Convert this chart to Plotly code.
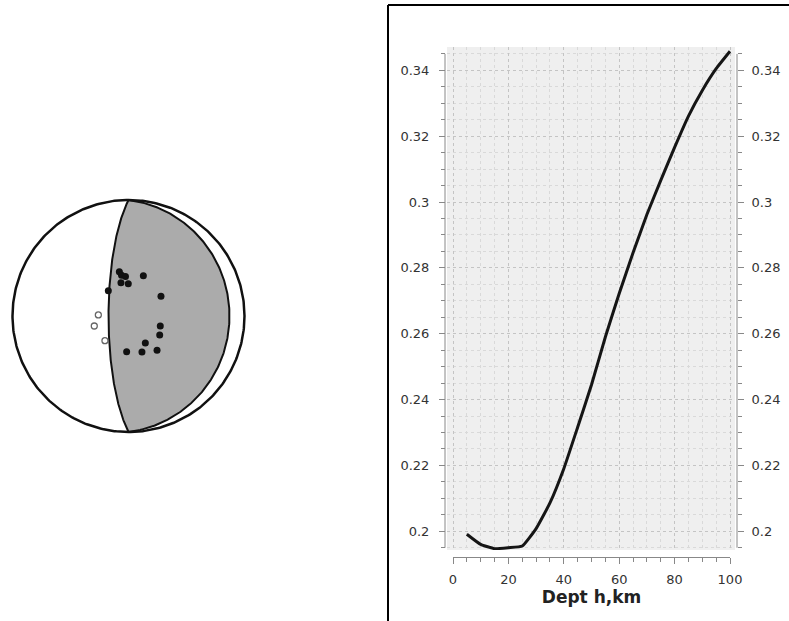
import numpy as np
import plotly.graph_objects as go

# ---------------- data ----------------
# Depth curve (right panel)
depth_km = [5, 10, 15, 20, 25, 30, 35, 40, 45, 50, 55, 60, 65, 70, 75, 80, 85, 90, 95, 100]
value = [0.1991, 0.1960, 0.1947, 0.1950, 0.1955, 0.2008, 0.2086, 0.2190, 0.2316, 0.2445,
         0.2590, 0.2722, 0.2846, 0.2962, 0.3066, 0.3166, 0.3261, 0.3339, 0.3405, 0.3458]
x_tick_vals = [0, 20, 40, 60, 80, 100]
y_tick_vals = [0.2, 0.22, 0.24, 0.26, 0.28, 0.3, 0.32, 0.34]
x_title = "Dept h,km"

# Focal mechanism (left panel): nodal planes (strike, dip) in degrees
plane1 = (180, 76)
plane2 = (0, 14)
# first-motion polarities, positions on unit (equal-area) net
comp_x = [-0.079, -0.060, -0.026, -0.065, -0.002, 0.128, -0.174, 0.280, 0.274, 0.269, 0.145, -0.016, 0.116, 0.246]
comp_y = [0.382, 0.352, 0.340, 0.287, 0.278, 0.347, 0.218, 0.170, -0.086, -0.164, -0.233, -0.308, -0.310, -0.296]
dil_x = [-0.260, -0.295, -0.203]
dil_y = [0.009, -0.086, -0.213]

W, H = 789, 621
def px(p):
    return p / W
def py(p):
    return 1 - p / H


def plane_curve(strike, dip, n=241):
    a = np.radians(np.linspace(0, 180, n))
    s = np.radians(strike)
    d = np.radians(dip)
    S = np.array([np.sin(s), np.cos(s), 0.0])
    D = np.array([np.cos(d) * np.sin(s + np.pi / 2), np.cos(d) * np.cos(s + np.pi / 2), np.sin(d)])
    v = np.outer(np.cos(a), S) + np.outer(np.sin(a), D)
    plunge = np.arcsin(np.clip(v[:, 2], -1, 1))
    trend = np.arctan2(v[:, 0], v[:, 1])
    r = np.sqrt(2) * np.sin((np.pi / 2 - plunge) / 2)
    return r * np.sin(trend), r * np.cos(trend)


fig = go.Figure()

# ---------- right panel: curve ----------
fig.add_trace(go.Scatter(x=depth_km, y=value, mode="lines",
                         line=dict(color="#151515", width=3, shape="spline", smoothing=0.4),
                         xaxis="x", yaxis="y", showlegend=False, hoverinfo="x+y"))
# carriers for the labelled axes
fig.add_trace(go.Scatter(x=[0, 100], y=[None, None], xaxis="x2", yaxis="y4",
                         showlegend=False, hoverinfo="skip"))
fig.add_trace(go.Scatter(x=[0, 100], y=[None, None], xaxis="x", yaxis="y2",
                         showlegend=False, hoverinfo="skip"))

# ---------- left panel: beachball ----------
p1x, p1y = plane_curve(*plane1)
p2x, p2y = plane_curve(*plane2)
fig.add_trace(go.Scatter(x=np.concatenate([p1x, p2x]), y=np.concatenate([p1y, p2y]),
                         mode="lines", fill="toself", fillcolor="#ababab",
                         line=dict(color="#111111", width=2),
                         xaxis="x3", yaxis="y3", showlegend=False, hoverinfo="skip"))
th = np.linspace(0, 2 * np.pi, 361)
fig.add_trace(go.Scatter(x=np.cos(th), y=np.sin(th), mode="lines",
                         line=dict(color="#111111", width=2.5),
                         xaxis="x3", yaxis="y3", showlegend=False, hoverinfo="skip"))
fig.add_trace(go.Scatter(x=comp_x, y=comp_y, mode="markers",
                         marker=dict(size=7, color="#111111"),
                         xaxis="x3", yaxis="y3", showlegend=False))
fig.add_trace(go.Scatter(x=dil_x, y=dil_y, mode="markers",
                         marker=dict(size=6, color="white", line=dict(color="#666666", width=1.3)),
                         xaxis="x3", yaxis="y3", showlegend=False))

# ---------- layout ----------
x_lo = (447 - 453) / 2.77
x_hi = 100 + (735 - 730) / 2.77
y_lo, y_hi = 0.1943, 0.3471
tick_font = dict(family="DejaVu Sans", size=13, color="#333333")
grid_major = "#c4c4c4"
grid_minor = "#d9d9d9"
axis_col = "#888888"

bb = 128.5 / 116

fig.update_layout(
    width=W, height=H, autosize=False,
    margin=dict(l=0, r=0, t=0, b=0, pad=0),
    paper_bgcolor="white",
    plot_bgcolor="rgba(0,0,0,0)",
    font=dict(family="DejaVu Sans"),
    xaxis=dict(domain=[px(447), px(735)], range=[x_lo, x_hi], anchor="y", automargin=False,
               showticklabels=False, ticks="", showline=False, zeroline=False,
               showgrid=True, tick0=0, dtick=20, gridcolor=grid_major, griddash="dot", gridwidth=1,
               minor=dict(dtick=5, tick0=0, showgrid=True, gridcolor=grid_minor, griddash="dot", ticks="")),
    yaxis=dict(domain=[py(550), py(47)], range=[y_lo, y_hi], anchor="free", position=px(445),
               side="left", showline=False, zeroline=False, automargin=False,
               tickmode="array", tickvals=y_tick_vals, ticks="outside", ticklen=6, tickcolor=axis_col,
               ticklabelstandoff=7, tickfont=tick_font,
               showgrid=True, gridcolor=grid_major, griddash="dot", gridwidth=1,
               minor=dict(dtick=0.005, tick0=0.2, showgrid=True, gridcolor=grid_minor, griddash="dot",
                          ticks="outside", ticklen=4, tickcolor=axis_col)),
    yaxis2=dict(overlaying="y", side="right", anchor="free", position=px(737), automargin=False,
                range=[y_lo, y_hi], showline=False, zeroline=False, showgrid=False,
                tickmode="array", tickvals=y_tick_vals, ticks="outside", ticklen=6, tickcolor=axis_col,
                ticklabelstandoff=5, tickfont=tick_font,
                minor=dict(dtick=0.005, tick0=0.2, ticks="outside", ticklen=4, tickcolor=axis_col, showgrid=False)),
    xaxis2=dict(domain=[px(453), px(730)], range=[0, 100], anchor="free", position=py(557), automargin=False,
                side="bottom", showline=True, linecolor=axis_col, linewidth=1, zeroline=False, showgrid=False,
                tickmode="array", tickvals=x_tick_vals, ticks="outside", ticklen=6, tickcolor=axis_col,
                ticklabelstandoff=4, tickfont=tick_font,
                minor=dict(dtick=5, tick0=0, ticks="outside", ticklen=4, tickcolor=axis_col, showgrid=False),
                title=dict(text=x_title, standoff=4,
                           font=dict(family="DejaVu Sans", size=17, color="#222222", weight="bold"))),
    yaxis4=dict(visible=False, domain=[py(550), py(47)], anchor="x2", range=[0, 1], automargin=False),
    xaxis3=dict(domain=[0, px(257)], range=[-bb, bb], visible=False, anchor="y3", automargin=False),
    yaxis3=dict(domain=[py(444.5), py(187.5)], range=[-bb, bb], visible=False, anchor="x3", automargin=False),
    shapes=[
        dict(type="rect", xref="paper", yref="paper", x0=px(447), x1=px(735), y0=py(550), y1=py(47),
             fillcolor="#efefef", line=dict(width=0), layer="below"),
        dict(type="line", xref="paper", yref="y", x0=px(445), x1=px(445), y0=0.195, y1=0.345,
             line=dict(color=axis_col, width=1)),
        dict(type="line", xref="paper", yref="y", x0=px(737), x1=px(737), y0=0.195, y1=0.345,
             line=dict(color=axis_col, width=1)),
        dict(type="line", xref="paper", yref="paper", x0=px(388), x1=px(388), y0=-0.02, y1=py(5),
             line=dict(color="black", width=2)),
        dict(type="line", xref="paper", yref="paper", x0=px(388), x1=1.02, y0=py(5), y1=py(5),
             line=dict(color="black", width=2)),
    ],
)

fig.write_html("out.html", config={"responsive": False, "displayModeBar": False},
               post_script="document.body.style.margin='0';document.body.style.overflow='hidden';")
